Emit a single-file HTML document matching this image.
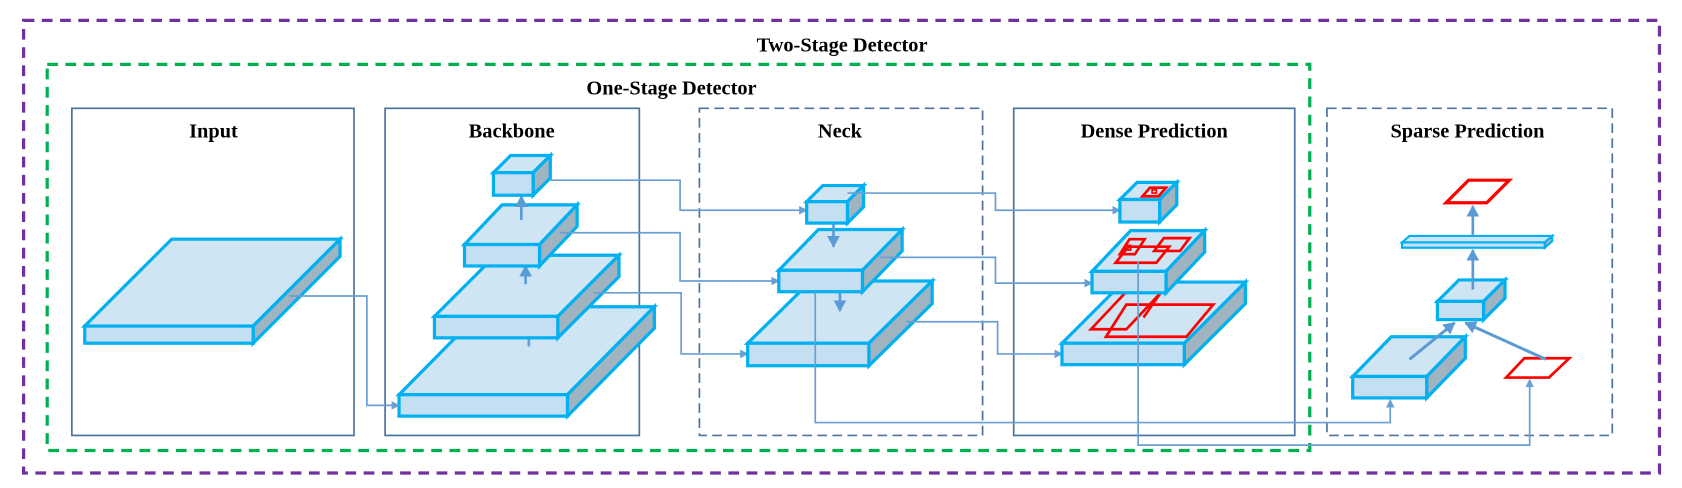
<!DOCTYPE html>
<html><head><meta charset="utf-8"><style>
html,body{margin:0;padding:0;background:#fff;}
svg{display:block;}
text{font-family:"Liberation Serif",serif;font-weight:bold;font-size:19px;text-anchor:middle;fill:#000;}
.t{fill:#cfe5f4;stroke:#00b0f0;stroke-width:3;stroke-linejoin:miter;}
.f{fill:#c3dff1;stroke:#00b0f0;stroke-width:3;}
.s{fill:#9fb3c1;stroke:#00b0f0;stroke-width:3;stroke-linejoin:miter;}
.c{fill:none;stroke:#6a9fd4;stroke-width:1.6;}
.r{fill:none;stroke:#ff0000;stroke-width:2.5;}
</style></head><body>
<svg width="1682" height="488" viewBox="0 0 1568 455" preserveAspectRatio="none" xmlns="http://www.w3.org/2000/svg">
<defs>
<marker id="a" markerWidth="8" markerHeight="8" refX="7" refY="4" orient="auto" markerUnits="userSpaceOnUse"><path d="M0,0 L8,4 L0,8 z" fill="#6a9fd4"/></marker>
<marker id="b" markerWidth="12" markerHeight="12" refX="10" refY="6" orient="auto" markerUnits="userSpaceOnUse"><path d="M0,0 L11,6 L0,12 z" fill="#5b9bd5"/></marker>
</defs>
<!-- outer frames -->
<rect x="22" y="19" width="1525" height="422" fill="none" stroke="#7030a0" stroke-width="3" stroke-dasharray="10,7"/>
<text x="785" y="48">Two-Stage Detector</text>
<rect x="44" y="60" width="1177" height="360" fill="none" stroke="#00b050" stroke-width="3" stroke-dasharray="10,7"/>
<text x="626" y="88">One-Stage Detector</text>
<rect x="67" y="101" width="263" height="305" fill="none" stroke="#4d74a0" stroke-width="1.6"/>
<text x="199" y="128">Input</text>
<rect x="359" y="101" width="237" height="305" fill="none" stroke="#4d74a0" stroke-width="1.6"/>
<text x="477" y="128">Backbone</text>
<rect x="652" y="101" width="264" height="305" fill="none" stroke="#4d74a0" stroke-width="1.6" stroke-dasharray="9,5"/>
<text x="783" y="128">Neck</text>
<rect x="945" y="101" width="262" height="305" fill="none" stroke="#4d74a0" stroke-width="1.6"/>
<text x="1076" y="128">Dense Prediction</text>
<rect x="1237" y="101" width="266" height="305" fill="none" stroke="#4d74a0" stroke-width="1.6" stroke-dasharray="9,5"/>
<text x="1368" y="128">Sparse Prediction</text>

<!-- Input -->
<polygon class="t" points="79,304 160,223 317,223 236,304"/>
<polygon class="s" points="236,304 317,223 317,239 236,320"/>
<rect class="f" x="79" y="304" width="157" height="16"/>

<!-- Backbone -->
<polygon class="t" points="372,368 453,286 610,286 529,368"/>
<polygon class="s" points="529,368 610,286 610,306 529,388"/>
<rect class="f" x="372" y="368" width="157" height="20"/>
<line x1="493" y1="315" x2="493" y2="323" stroke="#6a9fd4" stroke-width="2.5"/>
<polygon class="t" points="405,295 462,238 577,238 520,295"/>
<polygon class="s" points="520,295 577,238 577,258 520,315"/>
<rect class="f" x="405" y="295" width="115" height="20"/>
<line x1="490" y1="265" x2="490" y2="248" stroke="#5b9bd5" stroke-width="2.5" marker-end="url(#b)"/>
<polygon class="t" points="433,228 468,191 538,191 503,228"/>
<polygon class="s" points="503,228 538,191 538,211 503,248"/>
<rect class="f" x="433" y="228" width="70" height="20"/>
<line x1="486" y1="205" x2="486" y2="183" stroke="#5b9bd5" stroke-width="2.5" marker-end="url(#b)"/>
<polygon class="t" points="460,161 476,145 513,145 497,161"/>
<polygon class="s" points="497,161 513,145 513,166 497,182"/>
<rect class="f" x="460" y="161" width="37" height="21"/>

<!-- connectors into neck -->
<path class="c" d="M270,276 H342 V378 H372" marker-end="url(#a)"/>
<path class="c" d="M513,168 H634 V196 H752" marker-end="url(#a)"/>
<path class="c" d="M522,217 H634 V262 H726" marker-end="url(#a)"/>
<path class="c" d="M553,273 H635 V330 H697" marker-end="url(#a)"/>

<!-- Neck -->
<polygon class="t" points="697,320 756,262 869,262 810,320"/>
<polygon class="s" points="810,320 869,262 869,283 810,341"/>
<rect class="f" x="697" y="320" width="113" height="21"/>
<line x1="783" y1="272" x2="783" y2="290" stroke="#5b9bd5" stroke-width="2.5" marker-end="url(#b)"/>
<polygon class="t" points="726,252 763,214 841,214 804,252"/>
<polygon class="s" points="804,252 841,214 841,234 804,272"/>
<rect class="f" x="726" y="252" width="78" height="20"/>
<line x1="777" y1="208" x2="777" y2="230" stroke="#5b9bd5" stroke-width="2.5" marker-end="url(#b)"/>
<polygon class="t" points="752,188 767,173 805,173 790,188"/>
<polygon class="s" points="790,188 805,173 805,193 790,208"/>
<rect class="f" x="752" y="188" width="38" height="20"/>

<path class="c" d="M790,180 H928 V196 H1044" marker-end="url(#a)"/>
<path class="c" d="M820,240 H928 V264 H1018" marker-end="url(#a)"/>
<path class="c" d="M845,300 H930 V330 H990" marker-end="url(#a)"/>
<path class="c" d="M760,272 V394 H1296 V373" marker-end="url(#a)"/>

<!-- Dense -->
<polygon class="t" points="990,320 1047,263 1161,263 1104,320"/>
<polygon class="s" points="1104,320 1161,263 1161,283 1104,340"/>
<rect class="f" x="990" y="320" width="114" height="20"/>
<polygon class="r" points="1017,307 1050,272 1083,272 1050,307"/>
<polygon class="r" points="1031,314 1050,284 1131,284 1106,314"/>
<line class="r" x1="1066" y1="296" x2="1084" y2="270"/>
<polygon class="t" points="1018,253 1054,215 1123,215 1087,253"/>
<polygon class="s" points="1087,253 1123,215 1123,235 1087,273"/>
<rect class="f" x="1018" y="253" width="69" height="20"/>
<polygon class="r" points="1040,245 1052,230 1090,230 1078,245"/>
<polygon class="r" points="1044,237 1053,223 1067,223 1058,237"/>
<polygon class="r" points="1076,234 1085,222 1109,222 1100,234"/>
<rect class="r" x="1049" y="229" width="5" height="4" style="stroke-width:1.8"/>
<polygon class="t" points="1044,186 1060,170 1097,170 1081,186"/>
<polygon class="s" points="1081,186 1097,170 1097,191 1081,207"/>
<rect class="f" x="1044" y="186" width="37" height="21"/>
<polygon class="r" points="1065,183 1072,175 1087,175 1080,183"/>
<rect x="1074" y="177" width="4" height="3" fill="none" stroke="#ff0000" stroke-width="1.5"/>
<path class="c" d="M1061,244 V415 H1426 V354" marker-end="url(#a)"/>

<!-- Sparse -->
<polygon class="t" points="1261,351 1297,314 1366,314 1330,351"/>
<polygon class="s" points="1330,351 1366,314 1366,334 1330,371"/>
<rect class="f" x="1261" y="351" width="69" height="20"/>
<polygon class="r" points="1404,352 1421,334 1463,334 1444,352"/>
<line x1="1314" y1="335" x2="1356" y2="301" stroke="#5b9bd5" stroke-width="2.8" marker-end="url(#b)"/>
<line x1="1441" y1="335" x2="1366" y2="301" stroke="#5b9bd5" stroke-width="2.8" marker-end="url(#b)"/>
<polygon class="t" points="1340,281 1360,261 1403,261 1383,281"/>
<polygon class="s" points="1383,281 1403,261 1403,278 1383,298"/>
<rect class="f" x="1340" y="281" width="43" height="17"/>
<line x1="1373" y1="270" x2="1373" y2="233" stroke="#5b9bd5" stroke-width="2.5" marker-end="url(#b)"/>
<polygon class="t" points="1307,226 1314,220 1447,220 1440,226" style="stroke-width:2"/>
<polygon class="s" points="1440,226 1447,220 1447,225 1440,231" style="stroke-width:2"/>
<rect class="f" x="1307" y="226" width="133" height="5" style="stroke-width:2"/>
<line x1="1373" y1="219" x2="1373" y2="192" stroke="#5b9bd5" stroke-width="2.5" marker-end="url(#b)"/>
<polygon class="r" points="1348,189 1369,168 1407,168 1386,189" style="stroke-width:3"/>
</svg>
</body></html>
